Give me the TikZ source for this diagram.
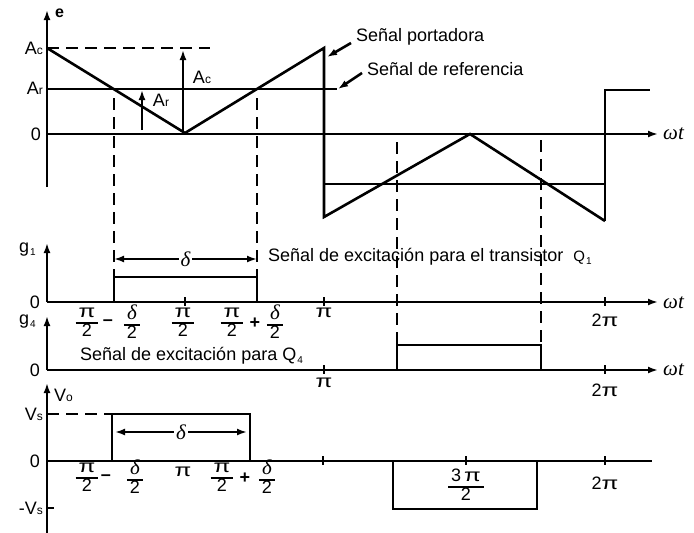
\documentclass[tikz,border=0pt]{standalone}
\usepackage{graphicx}
\usepackage{fontspec}
\setmainfont{Liberation Sans}
\newfontfamily\grfont{Liberation Serif}
\usetikzlibrary{arrows.meta}
\setlength{\arrayrulewidth}{1.6pt}
\newcommand{\lowix}[1]{{\fontsize{12}{12}\selectfont #1}}
\newcommand{\subix}[1]{\kern1pt\raisebox{-3pt}{\fontsize{10}{10}\selectfont #1}}
\newcommand{\dlt}{{\grfont\itshape\fontsize{21}{20}\selectfont δ}}
\newcommand{\wt}{{\grfont\itshape\fontsize{21}{21}\selectfont ωt}}
\newcommand{\pii}{\scalebox{1.35}[1]{π}}
\newcommand{\half}[1]{{\renewcommand{\arraystretch}{0.78}\begin{tabular}{@{\kern3pt}c@{\kern3pt}}#1\\\hline 2\end{tabular}}}
\tikzset{
  sig/.style={line width=2.6pt},
  dsh/.style={line width=2.6pt, dash pattern=on 12pt off 7pt},
  tick/.style={line width=1.4pt},
  lbl/.style={font=\fontsize{18}{20}\selectfont, inner sep=0pt},
}
\begin{document}
\begin{tikzpicture}[x=1pt,y=-1pt,>={Latex[length=10pt,width=7pt]}]
\useasboundingbox (0,0) rectangle (694,533);

% carrier and reference
\draw[sig,->] (47,187) -- (47,10);
\node[lbl,font=\bfseries\fontsize{16}{16}\selectfont,anchor=west] (e) at (55,13) {e};
\draw[sig,->] (47,134) -- (658,134);
\node[lbl,anchor=west] (wt1) at (663,134) {\wt};
\draw[dsh] (47,48) -- (210,48);
\draw[sig] (47,89) -- (337,89);
\draw[sig] (47,48) -- (185,133) -- (324,48) -- (324,217) -- (470,134) -- (605,221);
\draw[sig] (324,184) -- (605,184);
\draw[sig] (605,221) -- (605,90) -- (650,90);
\draw[sig,->] (142,130) -- (142,90);
\draw[sig,->] (183,132) -- (183,50);
\node[lbl] (ar) at (161,100) {A\lowix{r}};
\node[lbl] (ac) at (202,77) {A\lowix{c}};
\node[lbl,anchor=east] (acl) at (43,48) {A\lowix{c}};
\node[lbl,anchor=east] (arl) at (43,88) {A\lowix{r}};
\node[lbl,anchor=east] (z0) at (41,134) {0};

\coordinate (ptop) at (327,57);
\coordinate (pref) at (338,89);
\node[lbl,anchor=west] (port) at (356,37) {Señal portadora};
\node[lbl,anchor=west] (refl) at (367,69) {Señal de referencia};
\draw[sig,->] ([shift={(-5,6)}]port.west) -- (ptop);
\draw[sig,->] ([shift={(-5,4)}]refl.west) -- (pref);

% crossing points
\draw[dsh] (114,98) -- (114,277);
\draw[dsh] (257,98) -- (257,277);
\draw[dsh] (397,142) -- (397,345);
\draw[dsh] (541,140) -- (541,345);

% g1
\draw[sig,->] (47,302) -- (47,243);
\node[lbl,anchor=east] (g1) at (36,250) {g\subix{1}};
\draw[sig,->] (47,302) -- (658,302);
\node[lbl,anchor=west] (wt2) at (663,303) {\wt};
\node[lbl,anchor=east] (z1) at (40,302) {0};
\foreach \x in {185,324,605} \draw[tick] (\x,297) -- (\x,306);
\draw[sig] (114,302) -- (114,277) -- (257,277) -- (257,302);
\draw[sig,<->] (114,259) -- (257,259) node[midway,lbl,fill=white,inner sep=2pt] (d1) {\dlt};
\node[lbl,anchor=west] (q1) at (268,257) {Señal de excitación para el transistor \ {\fontsize{15}{15}\selectfont Q}\subix{1}};
\node[lbl] (f1) at (87,324) {\half{\pii}};
\node[lbl] (m1) at (108,323) {\textbf{–}};
\node[lbl] (f2) at (132,324) {\half{\dlt}};
\node[lbl] (f3) at (183,324) {\half{\pii}};
\node[lbl] (f4) at (232,324) {\half{\pii}};
\node[lbl] (p1) at (255,323) {\textbf{+}};
\node[lbl] (f5) at (275,324) {\half{\dlt}};
\node[lbl] (pi1) at (324,313) {\pii};
\node[lbl] (tpi1) at (605,320) {2\pii};

% g4
\draw[sig,->] (47,370) -- (47,316);
\node[lbl,anchor=east] (g4) at (36,322) {g\subix{4}};
\draw[sig,->] (47,370) -- (658,370);
\node[lbl,anchor=west] (wt3) at (663,370) {\wt};
\node[lbl,anchor=east] (z2) at (40,370) {0};
\foreach \x in {324,605} \draw[tick] (\x,365) -- (\x,374);
\node[lbl,anchor=west] (q4) at (80,356) {Señal de excitación para Q\subix{4}};
\draw[sig] (397,370) -- (397,345) -- (541,345) -- (541,370);
\node[lbl] (pi2) at (324,383) {\pii};
\node[lbl] (tpi2) at (605,390) {2\pii};

% Vo
\draw[sig,->] (47,533) -- (47,383);
\node[lbl,anchor=west] (vo) at (54,395) {V\lowix{o}};
\node[lbl,anchor=east] (vs) at (43,414) {V\lowix{s}};
\node[lbl,anchor=east] (z3) at (40,461) {0};
\node[lbl,anchor=east] (mvs) at (43,508) {-V\lowix{s}};
\draw[sig] (47,508) -- (54,508);
\draw[dsh] (47,414) -- (112,414);
\draw[sig] (112,461) -- (112,414) -- (250,414) -- (250,461);
\draw[sig,<->] (115,432) -- (247,432) node[midway,lbl,fill=white,inner sep=2pt] (d2) {\dlt};
\draw[sig] (47,461) -- (652,461);
\foreach \x in {323,466,605} \draw[tick] (\x,456) -- (\x,465);
\draw[sig] (393,461) -- (393,509) -- (537,509) -- (537,461);
\node[lbl] (f6) at (87,479) {\half{\pii}};
\node[lbl] (m2) at (106,478) {\textbf{–}};
\node[lbl] (f7) at (135,479) {\half{\dlt}};
\node[lbl] (pi3) at (183,472) {\pii};
\node[lbl] (f8) at (222,479) {\half{\pii}};
\node[lbl] (p2) at (245,478) {\textbf{+}};
\node[lbl] (f9) at (267,479) {\half{\dlt}};
\node[lbl] (f10) at (466,487) {\half{3\,\pii}};
\node[lbl] (tpi3) at (605,483) {2\pii};
\end{tikzpicture}
\end{document}
